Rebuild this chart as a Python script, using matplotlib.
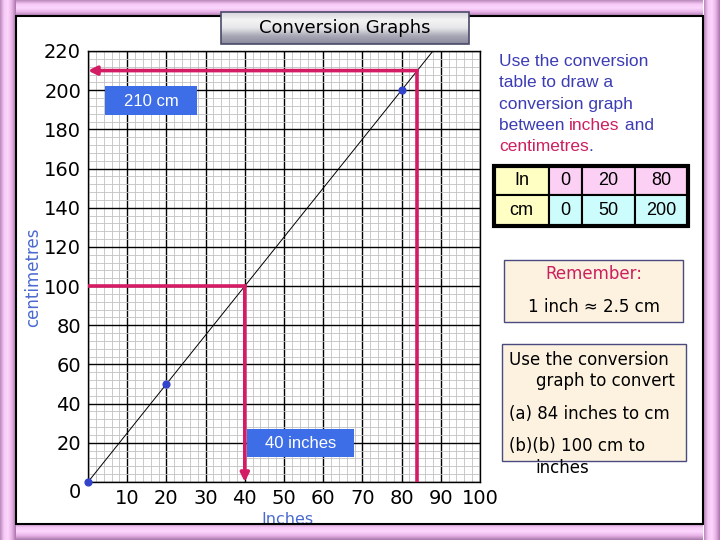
import numpy as np
import matplotlib
matplotlib.use("Agg")
import matplotlib.pyplot as plt
from matplotlib.patches import Rectangle
from matplotlib.colors import LinearSegmentedColormap

# ---- data ----
inches = [0, 20, 80]
cm = [0, 50, 200]
line_in = [0, 88]
line_cm = [0, 220]
x_ticks = [10, 20, 30, 40, 50, 60, 70, 80, 90, 100]
y_ticks = [20, 40, 60, 80, 100, 120, 140, 160, 180, 200, 220]
read1_in, read1_cm = 84, 210
read2_in, read2_cm = 40, 100
table_rows = [["In", "0", "20", "80"], ["cm", "0", "50", "200"]]

W, H = 720, 540
fig = plt.figure(figsize=(7.2, 5.4), dpi=100)
fig.patch.set_facecolor("white")

def fx(x): return x / W
def fy(y): return 1 - y / H

def rect(x0, y0, x1, y1, **kw):
    r = Rectangle((fx(x0), fy(y1)), fx(x1) - fx(x0), fy(y0) - fy(y1),
                  transform=fig.transFigure, **kw)
    fig.add_artist(r)
    return r

def grad_axes(x0, y0, x1, y1, colors, vertical=True, z=0):
    a = fig.add_axes([fx(x0), fy(y1), fx(x1) - fx(x0), fy(y0) - fy(y1)], zorder=z)
    cmap = LinearSegmentedColormap.from_list("g", colors)
    g = np.linspace(0, 1, 64)
    img = g[:, None] if vertical else g[None, :]
    a.imshow(img, cmap=cmap, aspect="auto", extent=[0, 1, 0, 1], origin="upper")
    a.set_axis_off()
    return a

pinkgrad = ["#b98ab9", "#f7c9f7", "#fbd6fb", "#e8b2e8", "#a878a8"]
# frame bars
grad_axes(0, 0, 703, 16, pinkgrad, vertical=True)
grad_axes(16, 524, 703, 540, pinkgrad, vertical=True)
grad_axes(0, 0, 16, 540, pinkgrad, vertical=False)
grad_axes(704, 0, 720, 540, pinkgrad, vertical=False)
rect(16, 16, 703, 524, facecolor="none", edgecolor="black", lw=1.5, zorder=5)

# ---- graph ----
ax = fig.add_axes([fx(88), fy(482), fx(480) - fx(88), fy(51) - fy(482)], zorder=2)
ax.set_xlim(0, 100)
ax.set_ylim(0, 220)
ax.set_xticks([0] + x_ticks)
ax.set_xticklabels([""] + [str(v) for v in x_ticks])
ax.set_yticks([0] + y_ticks)
ax.set_yticklabels([""] + [str(v) for v in y_ticks])
ax.set_xticks(np.arange(0, 101, 2), minor=True)
ax.set_yticks(np.arange(0, 221, 4), minor=True)
ax.tick_params(which="both", length=0)
ax.tick_params(axis="x", pad=5, labelsize=14)
ax.tick_params(axis="y", pad=5, labelsize=14)
ax.grid(which="minor", color="#c2c2c2", lw=0.6)
ax.grid(which="major", color="black", lw=1.0)
ax.set_axisbelow(True)
for s in ax.spines.values():
    s.set_color("black")
    s.set_linewidth(1.0)

ax.plot(line_in, line_cm, color="black", lw=0.7, zorder=3)
ax.scatter(inches, cm, s=24, color="#3344cc", zorder=5, clip_on=False)

pink = "#d41c64"
ax.plot([read1_in, read1_in], [0, read1_cm], color=pink, lw=2.6, zorder=4)
ax.annotate("", xy=(0, read1_cm), xytext=(read1_in, read1_cm),
            arrowprops=dict(arrowstyle="-|>,head_length=0.5,head_width=0.25",
                            color=pink, lw=2.6, shrinkA=0, shrinkB=0), zorder=4)
ax.plot([0, read2_in], [read2_cm, read2_cm], color=pink, lw=2.6, zorder=4)
ax.annotate("", xy=(read2_in, 0), xytext=(read2_in, read2_cm),
            arrowprops=dict(arrowstyle="-|>,head_length=0.5,head_width=0.25",
                            color=pink, lw=2.6, shrinkA=0, shrinkB=0), zorder=4)

fig.text(fx(75), fy(493), "0", fontsize=14, ha="center", va="center")
fig.text(fx(287), fy(519), "Inches", fontsize=11.5, color="#4a6ad0", ha="center", va="center")
fig.text(fx(33), fy(277), "centimetres", fontsize=12, color="#4a6ad0", rotation=90,
         ha="center", va="center")

# blue answer labels
blue = "#3d6ee8"
rect(105, 86, 197, 115, facecolor=blue, edgecolor="none", zorder=6)
fig.text(fx(151), fy(101), f"{read1_cm} cm", color="white", fontsize=12,
         family="Liberation Sans", ha="center", va="center", zorder=7)
rect(247, 429, 354, 457, facecolor=blue, edgecolor="none", zorder=6)
fig.text(fx(300.5), fy(443.5), f"{read2_in} inches", color="white", fontsize=12,
         family="Liberation Sans", ha="center", va="center", zorder=7)

# title box
grad_axes(221, 12, 469, 44, ["#d4d4dc", "#f4f4f4", "#e6e6ea", "#a8a8b6", "#8a8a9c"], vertical=True, z=6)
rect(221, 12, 469, 44, facecolor="none", edgecolor="#4a4a6a", lw=1.2, zorder=7)
fig.text(fx(345), fy(28), "Conversion Graphs", fontsize=13, ha="center", va="center", zorder=8)

# instructions text
indigo = "#3c3cb4"
crimson = "#cc1f5f"
fam = "Liberation Sans"
fs = 12.5
lines = ["Use the conversion", "table to draw a", "conversion graph"]
for i, t in enumerate(lines):
    fig.text(fx(499), fy(61 + 21.5 * i), t, fontsize=fs, color=indigo, family=fam,
             ha="left", va="center")
fig.canvas.draw()
r = fig.canvas.get_renderer()
parts = [("between ", indigo), ("inches", crimson), (" and", indigo)]
x = 499
for t, c in parts:
    tt = fig.text(fx(x), fy(125.5), t, fontsize=fs, color=c, family=fam, ha="left", va="center")
    bb = tt.get_window_extent(renderer=r)
    x += bb.width
tt = fig.text(fx(499), fy(147), "centimetres", fontsize=fs, color=crimson, family=fam,
              ha="left", va="center")
bb = tt.get_window_extent(renderer=r)
fig.text(fx(499) + bb.width / W, fy(147), ".", fontsize=fs, color=indigo, family=fam,
         ha="left", va="center")

# table
cols = [494, 549, 582, 635, 688]
rows = [166, 195, 226]
fills = [["#ffffc4", "#fcd0f4", "#fcd0f4", "#fcd0f4"],
         ["#ffffc4", "#ccfcfc", "#ccfcfc", "#ccfcfc"]]
for ri in range(2):
    for ci in range(4):
        rect(cols[ci], rows[ri], cols[ci + 1], rows[ri + 1], facecolor=fills[ri][ci],
             edgecolor="black", lw=1.5, zorder=3)
        fig.text(fx((cols[ci] + cols[ci + 1]) / 2), fy((rows[ri] + rows[ri + 1]) / 2),
                 table_rows[ri][ci], fontsize=13, family=fam, ha="center", va="center", zorder=4)
rect(cols[0], rows[0], cols[-1], rows[-1], facecolor="none", edgecolor="black", lw=3, zorder=5)

# remember box
beige = "#fcf2df"
rect(504, 260, 683, 322, facecolor=beige, edgecolor="#4a4a80", lw=1, zorder=3)
fig.text(fx(594), fy(274), "Remember:", fontsize=12, color=crimson, ha="center", va="center", zorder=4)
fig.text(fx(594), fy(307), "1 inch \u2248 2.5 cm", fontsize=12, ha="center", va="center", zorder=4)

# question box
rect(502, 344, 686, 461, facecolor=beige, edgecolor="#4a4a80", lw=1, zorder=3)
q = [(509, 360, "Use the conversion"), (536, 381, "graph to convert"),
     (509, 414, "(a) 84 inches to cm"), (509, 446, "(b)(b) 100 cm to"),
     (535, 468, "inches")]
for xx, yy, t in q:
    fig.text(fx(xx), fy(yy), t, fontsize=12, ha="left", va="center", zorder=4)

fig.savefig("out.png", dpi=100)
